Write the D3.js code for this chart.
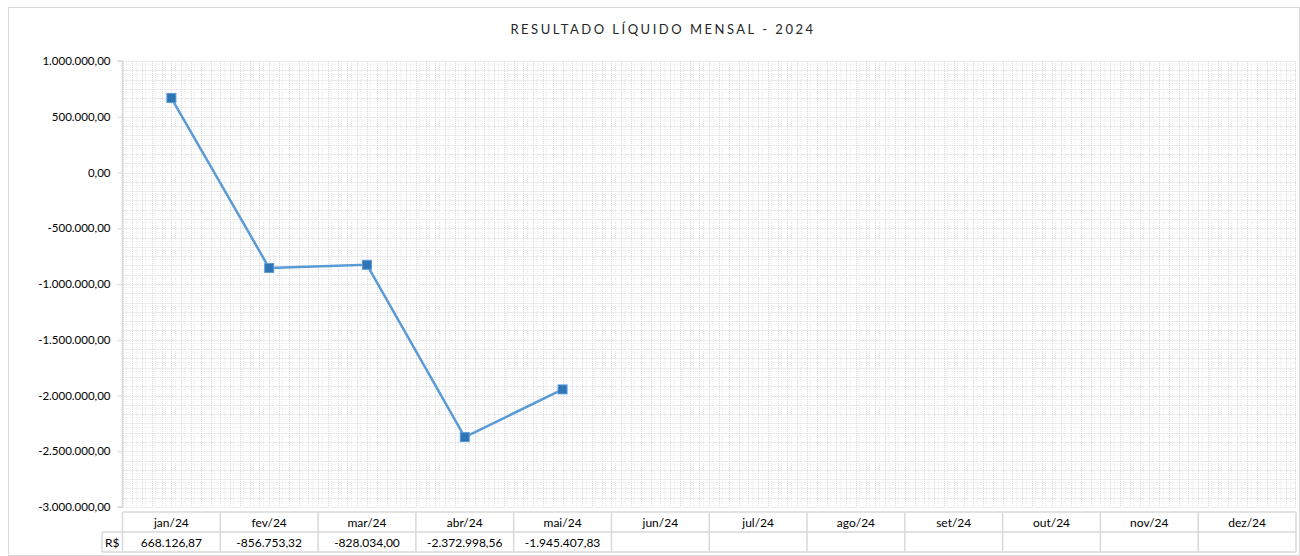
<!DOCTYPE html>
<html>
<head>
<meta charset="utf-8">
<style>
body { margin: 0; background: #fff; }
svg text { font-family: Lato, "Open Sans", sans-serif; }
</style>
</head>
<body>
<svg id="chart" width="1300" height="556"></svg>
<script src="https://cdn.jsdelivr.net/npm/d3@7"></script>
<script>
// months and results (R$)
var months = ["jan/24","fev/24","mar/24","abr/24","mai/24","jun/24","jul/24","ago/24","set/24","out/24","nov/24","dez/24"];
var resultado = [668126.87, -856753.32, -828034.00, -2372998.56, -1945407.83, null, null, null, null, null, null, null];
var yTicks = [1000000, 500000, 0, -500000, -1000000, -1500000, -2000000, -2500000, -3000000];
var title = "RESULTADO LÍQUIDO MENSAL - 2024";

var svg = d3.select("#chart");
var W = 1300, H = 556;
var pLeft = 122.5, pRight = 1296, pTop = 61, pBottom = 507;

var fmt = d3.formatLocale({decimal: ",", thousands: ".", grouping: [3], currency: ["R$", ""], minus: "-"}).format(",.2f");

// outer frame
svg.append("rect").attr("x", 8.5).attr("y", 7.5).attr("width", W - 9).attr("height", H - 8)
  .attr("fill", "#fff").attr("stroke", "#d9d9d9");

svg.append("text").attr("x", 663).attr("y", 34).attr("text-anchor", "middle")
  .attr("font-size", 13).attr("letter-spacing", 2.5).attr("fill", "#262626").text(title);

var x = d3.scaleBand().domain(months).range([pLeft, pRight]);
var y = d3.scaleLinear().domain([-3000000, 1000000]).range([pBottom, pTop]);

// grid texture: dotted square cells
var g = svg.append("g");
var hStep = 500000 / 6;
var hA = d3.range(0, 48).map(i => -3000000 + i * hStep);
function hLines(data, off, col) {
  g.selectAll(null).data(data).enter().append("line")
    .attr("x1", pLeft).attr("x2", pRight)
    .attr("y1", d => Math.round(y(d) - off) + 0.5).attr("y2", d => Math.round(y(d) - off) + 0.5)
    .attr("stroke", col).attr("stroke-dasharray", "1,1");
}
hLines(hA.concat([1000000]), 0, "#d9d9d9");
hLines(hA, (y(0) - y(hStep)) * 0.65, "#ececec");
var vA = [];
months.forEach(function (m) {
  for (var i = 0; i < 10; i++) vA.push(x(m) + i * x.bandwidth() / 10);
});
function vLines(data, off, col) {
  g.selectAll(null).data(data).enter().append("line")
    .attr("y1", pTop).attr("y2", pBottom)
    .attr("x1", d => Math.round(d + off) + 0.5).attr("x2", d => Math.round(d + off) + 0.5)
    .attr("stroke", col).attr("stroke-dasharray", "1,1");
}
vLines(vA.concat([pRight - 1]), 0, "#d9d9d9");
vLines(vA, x.bandwidth() / 10 * 0.35, "#ececec");

// y axis
var yAxis = d3.axisLeft(y).tickValues(yTicks).tickSize(5).tickFormat(fmt);
var ya = svg.append("g").attr("transform", "translate(" + pLeft + ",0)").call(yAxis);
ya.select(".domain").attr("stroke", "#d9d9d9").attr("stroke-width", 1.5).attr("d", "M-5," + pTop + "H0V" + pBottom + "H-5");
ya.selectAll(".tick line").attr("stroke", "#d9d9d9");
ya.selectAll(".tick text").attr("x", -12).attr("font-size", 11.5).attr("fill", "#000").attr("font-family", "Lato, sans-serif");

// line + markers
var pts = months.map((m, i) => ({m: m, v: resultado[i]})).filter(d => d.v !== null);
var line = d3.line().x(d => x(d.m) + x.bandwidth() / 2).y(d => y(d.v));
svg.append("path").datum(pts).attr("d", line).attr("fill", "none")
  .attr("stroke", "#5b9bd5").attr("stroke-width", 2.5).attr("stroke-linejoin", "round");
svg.selectAll(".mk").data(pts).enter().append("rect")
  .attr("x", d => x(d.m) + x.bandwidth() / 2 - 4.5).attr("y", d => y(d.v) - 4.5)
  .attr("width", 9).attr("height", 9)
  .attr("fill", "#2e75b6").attr("stroke", "#5b9bd5").attr("stroke-width", 1);

// data table
var r1 = 512, r2 = 532, r3 = 552, c0 = 102;
var tb = svg.append("g").attr("stroke", "#d9d9d9").attr("stroke-width", 1.5).attr("fill", "none");
tb.append("line").attr("x1", pLeft).attr("x2", pRight).attr("y1", r1).attr("y2", r1);
tb.append("line").attr("x1", c0).attr("x2", pRight).attr("y1", r2).attr("y2", r2);
tb.append("line").attr("x1", c0).attr("x2", pRight).attr("y1", r3).attr("y2", r3);
tb.append("line").attr("x1", c0).attr("x2", c0).attr("y1", r2).attr("y2", r3);
tb.selectAll(".cl").data(months).enter().append("line")
  .attr("x1", d => x(d)).attr("x2", d => x(d)).attr("y1", r1).attr("y2", r3);
tb.append("line").attr("x1", pRight).attr("x2", pRight).attr("y1", r1).attr("y2", r3);

svg.selectAll(".mh").data(months).enter().append("text")
  .attr("x", d => x(d) + x.bandwidth() / 2).attr("y", r1 + 15).attr("text-anchor", "middle")
  .attr("font-size", 12).attr("fill", "#000").text(d => d);
svg.selectAll(".mv").data(pts).enter().append("text")
  .attr("x", d => x(d.m) + x.bandwidth() / 2).attr("y", r2 + 15).attr("text-anchor", "middle")
  .attr("font-size", 12).attr("fill", "#000").text(d => fmt(d.v));
svg.append("text").attr("x", (c0 + pLeft) / 2).attr("y", r2 + 15).attr("text-anchor", "middle")
  .attr("font-size", 12).attr("fill", "#000").text("R$");
</script>
</body>
</html>
